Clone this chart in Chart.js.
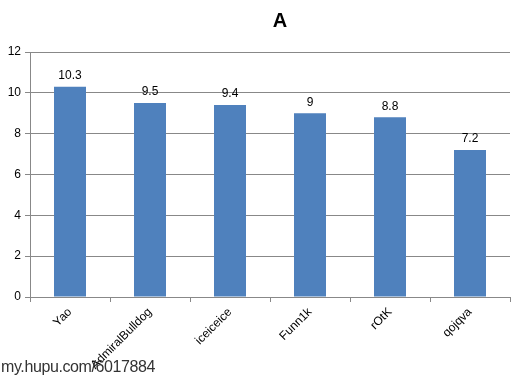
<!DOCTYPE html>
<html><head><meta charset="utf-8">
<script src="https://cdn.jsdelivr.net/npm/chart.js@4"></script>
<style>
html,body{margin:0;padding:0;background:#fff;}
#wrap{position:relative;width:528px;height:379px;}
#wm{position:absolute;left:1px;top:358px;font-family:"Liberation Sans",Arial,sans-serif;font-size:16px;color:#333;letter-spacing:-0.4px;}
</style></head>
<body>
<div id="wrap"><canvas id="c" width="528" height="379"></canvas><div id="wm">my.hupu.com/6017884</div></div>
<script>
const categories = ["Yao","AdmiralBulldog","iceiceice","Funn1k","rOtK","qojqva"];
const values = [10.3, 9.5, 9.4, 9, 8.8, 7.2];
const yTicks = [0,2,4,6,8,10,12];
const titleText = 'A';

const labelPlugin = {
  id: 'vals',
  afterDatasetsDraw(chart) {
    const ctx = chart.ctx;
    const meta = chart.getDatasetMeta(0);
    ctx.save();
    ctx.font = '12px "Liberation Sans", Arial, sans-serif';
    ctx.fillStyle = '#000';
    ctx.textAlign = 'center';
    ctx.textBaseline = 'bottom';
    meta.data.forEach((bar, i) => {
      ctx.fillText(String(values[i]), bar.x, bar.y - 5);
    });
    ctx.restore();
  }
};
const titlePlugin = {
  id: 'ttl',
  afterDraw(chart) {
    const ctx = chart.ctx, a = chart.chartArea;
    ctx.save();
    ctx.font = 'bold 20px "Liberation Sans", Arial, sans-serif';
    ctx.fillStyle = '#000';
    ctx.textAlign = 'center';
    ctx.textBaseline = 'middle';
    ctx.fillText(titleText, (a.left + a.right) / 2 + 10, 21);
    ctx.restore();
  }
};

new Chart(document.getElementById('c'), {
  type: 'bar',
  data: { labels: categories, datasets: [{ data: values, backgroundColor: '#4F81BD', borderWidth: 0, categoryPercentage: 1, barPercentage: 0.4 }] },
  options: {
    responsive: false, animation: false,
    layout: { padding: { left: 0, right: 18, top: 52, bottom: 0 } },
    plugins: { legend: { display: false }, tooltip: { enabled: false }, title: { display: false } },
    scales: {
      x: {
        offset: true,
        grid: { offset: true, drawOnChartArea: false, color: '#888', tickLength: 5 },
        border: { color: '#888' },
        ticks: { color: '#000', maxRotation: 45, minRotation: 45, font: { family: '"Liberation Sans", Arial, sans-serif', size: 12 } },
        afterFit(s) { s.height = 82; }
      },
      y: {
        min: 0, max: 12,
        afterBuildTicks(s) { s.ticks = yTicks.map(v => ({ value: v })); },
        grid: { color: '#888', tickLength: 5 },
        border: { color: '#888' },
        ticks: { color: '#000', padding: 4, font: { family: '"Liberation Sans", Arial, sans-serif', size: 12 } },
        afterFit(s) { s.width = 30; }
      }
    }
  },
  plugins: [labelPlugin, titlePlugin]
});
</script>
</body></html>
